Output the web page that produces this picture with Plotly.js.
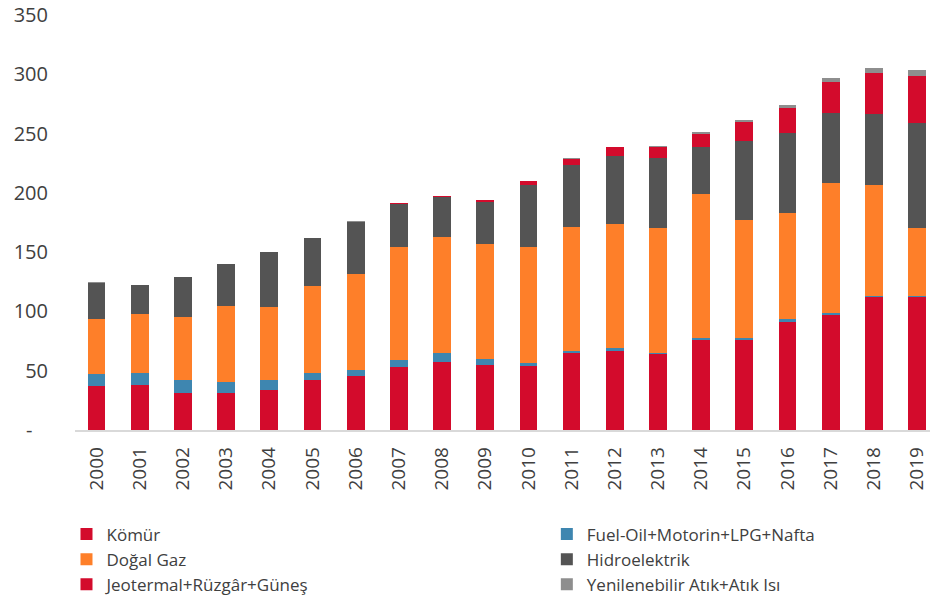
<!DOCTYPE html>
<html>
<head>
<meta charset="utf-8">
<script src="https://cdn.plot.ly/plotly-3.0.1.min.js"></script>
<style>html,body{margin:0;padding:0;background:#fff;}#chart{width:930px;height:597px;}</style>
</head>
<body>
<div id="chart"></div>
<script>
const years = ['2000','2001','2002','2003','2004','2005','2006','2007','2008','2009','2010','2011','2012','2013','2014','2015','2016','2017','2018','2019'];
const komur = [37.4,37.9,31.5,31.5,33.7,42.2,45.8,52.9,57.1,54.8,54.2,64.9,66.9,63.8,75.9,75.9,91.3,97.0,112.4,112.4];
const fuelOil = [9.6,10.4,10.9,9.2,8.5,6.1,4.8,6.1,7.6,5.1,2.5,1.7,2.5,1.4,1.9,1.9,2.3,1.4,0.6,0.8];
const dogalGaz = [46.3,49.5,52.9,63.9,61.8,73.4,80.7,95.6,98.3,96.7,97.9,104.5,104.0,104.9,120.9,99.3,89.1,110.1,93.3,56.9];
const hidro = [30.9,24.5,33.7,35.4,46.1,39.9,44.3,36.0,33.2,35.4,51.7,52.3,57.9,59.0,40.2,66.8,67.5,58.5,59.9,88.5];
const jeoRuzgarGunes = [0.1,0.1,0.2,0.2,0.2,0.2,0.2,0.5,1.0,2.0,3.6,5.3,7.0,9.6,10.7,15.5,21.6,26.7,34.6,40.1];
const yenilenebilir = [0.2,0.2,0.2,0.1,0.1,0.1,0.1,0.2,0.2,0.3,0.4,0.5,0.6,1.0,1.4,1.8,2.3,3.4,4.2,4.8];
const yTickVals = [0,50,100,150,200,250,300,350];
const yTickText = ['-\u00a0\u00a0\u00a0','50','100','150','200','250','300','350'];

const series = [
  {name:'Kömür', y:komur, color:'#D30B2C', legend:'legend'},
  {name:'Fuel-Oil+Motorin+LPG+Nafta', y:fuelOil, color:'#3E86B0', legend:'legend2'},
  {name:'Doğal Gaz', y:dogalGaz, color:'#FE7F29', legend:'legend'},
  {name:'Hidroelektrik', y:hidro, color:'#545454', legend:'legend2'},
  {name:'Jeotermal+Rüzgâr+Güneş', y:jeoRuzgarGunes, color:'#D30B2C', legend:'legend'},
  {name:'Yenilenebilir Atık+Atık Isı', y:yenilenebilir, color:'#8E8E8E', legend:'legend2'}
];

const traces = series.map(s => ({
  type:'bar', x:years, y:s.y, name:s.name, legend:s.legend,
  marker:{color:s.color, line:{width:0}}, hoverinfo:'skip'
}));

const legendCommon = {
  orientation:'v', xref:'container', yref:'container', xanchor:'left', yanchor:'top',
  bgcolor:'rgba(0,0,0,0)',
  font:{family:'Open Sans, sans-serif', size:17, color:'#404040'}, traceorder:'normal',
  itemclick:false, itemdoubleclick:false
};

const layout = {
  width:930, height:597,
  margin:{l:75, r:0, t:15, b:167, autoexpand:false},
  paper_bgcolor:'#fff', plot_bgcolor:'#fff',
  barmode:'stack', bargap:0.59,
  font:{family:'Open Sans, sans-serif', color:'#404040'},
  showlegend:true,
  xaxis:{type:'category', range:[-0.5,19.3], tickangle:-90, showgrid:false, zeroline:false,
    showline:true, linecolor:'#d9d9d9', linewidth:1.5, ticks:'', ticklabelstandoff:8, automargin:false,
    tickfont:{family:'Open Sans, sans-serif', size:19, color:'#404040'}, fixedrange:true},
  yaxis:{range:[0,350], tickvals:yTickVals, ticktext:yTickText, showgrid:false, zeroline:false,
    showline:false, ticks:'', ticklabelstandoff:26, automargin:false,
    tickfont:{family:'Open Sans, sans-serif', size:20, color:'#404040'}, fixedrange:true},
  legend:Object.assign({x:0.0715, y:0.1348}, legendCommon),
  legend2:Object.assign({x:0.588, y:0.1348}, legendCommon)
};

Plotly.newPlot('chart', traces, layout, {displayModeBar:false, staticPlot:true});
</script>
</body>
</html>
